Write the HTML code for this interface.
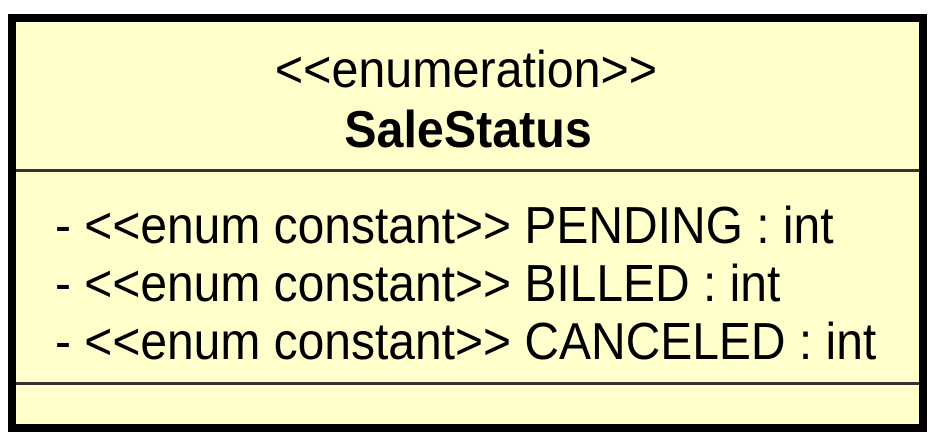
<!DOCTYPE html>
<html><head><style>html,body{margin:0;padding:0;background:#fff}</style></head>
<body>
<svg width="939" height="442" xmlns="http://www.w3.org/2000/svg" style="display:block">
<rect x="12" y="18" width="911" height="410" fill="#ffffcc" stroke="#000" stroke-width="8"/>
<rect x="16" y="169" width="903" height="3" fill="#333"/>
<rect x="16" y="382" width="903" height="3" fill="#333"/>
<g font-family="Liberation Sans, Arial, sans-serif" font-size="47" fill="#000">
<text x="0" y="0" text-anchor="middle" transform="translate(466,87) scale(1.03,1.1)">&lt;&lt;enumeration&gt;&gt;</text>
<text x="0" y="0" text-anchor="middle" font-weight="bold" transform="translate(468,147) scale(1.03,1.1)">SaleStatus</text>
<text x="0" y="0" transform="translate(55,243) scale(1.021,1.1)">- &lt;&lt;enum constant&gt;&gt; PENDING : int</text>
<text x="0" y="0" transform="translate(55,301) scale(1.021,1.1)">- &lt;&lt;enum constant&gt;&gt; BILLED : int</text>
<text x="0" y="0" transform="translate(55,359) scale(1.021,1.1)">- &lt;&lt;enum constant&gt;&gt; CANCELED : int</text>
</g>
</svg>
</body></html>
